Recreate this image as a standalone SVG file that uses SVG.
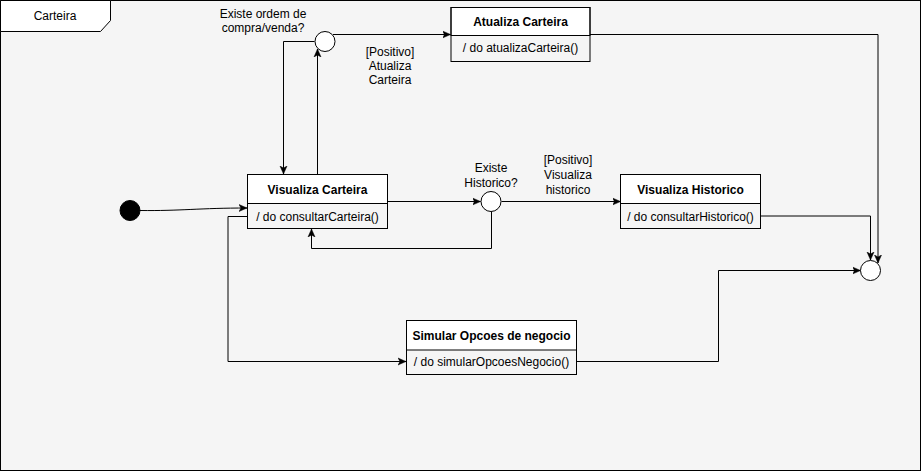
<svg xmlns="http://www.w3.org/2000/svg" width="921" height="471" viewBox="0 0 921 471">
<style>
text{font-family:"Liberation Sans",Arial,sans-serif;font-size:12px;fill:#000;}
.t{font-weight:bold;text-anchor:middle;}
.b{text-anchor:middle;}
.lbl{text-anchor:middle;}
.box{fill:none;stroke:#000;stroke-width:1;}
.hdr{fill:#fff;stroke:#000;stroke-width:1;}
.c{fill:#fff;stroke:#000;stroke-width:1;}
.e{fill:none;stroke:#000;stroke-width:1;marker-end:url(#arr);}
</style>
<defs>
<marker id="arr" markerUnits="userSpaceOnUse" markerWidth="9" markerHeight="9" refX="8" refY="4.5" orient="auto">
<path d="M0,1 L8,4.5 L0,8 L2,4.5 Z" fill="#000" stroke="#000" stroke-width="0.5"/>
</marker>
</defs>
<g id="frame">
<rect x="0.5" y="0.5" width="920" height="470" fill="#f5f5f5" stroke="#000"/>
<polygon points="0.5,0.5 110.5,0.5 110.5,20.5 100.5,31.5 0.5,31.5" fill="#fff" stroke="#000"/>
<text x="55" y="19.5" class="b">Carteira</text>
</g>
<g id="connectors">
<path class="e" d="M140,210.5 C180,211 200,208 247,208"/>
<path class="e" d="M317.5,175 L317.5,49"/>
<path class="e" d="M314.5,41.5 L283.5,41.5 L283.5,174"/>
<path class="e" d="M333,34.5 L450.5,34.5"/>
<path class="e" d="M590,34.5 L878,34.5 L878,263"/>
<path class="e" d="M761,216 L870.5,216 L870.5,260"/>
<path class="e" d="M387,201.5 L480.5,201.5"/>
<path class="e" d="M491.5,211.5 L491.5,248.5 L311.5,248.5 L311.5,229"/>
<path class="e" d="M501.5,201.5 L620.5,201.5"/>
<path class="e" d="M247,216.5 L228,216.5 L228,361.5 L406,361.5"/>
<path class="e" d="M577,361.5 L718.5,361.5 L718.5,270.5 L860.5,270.5"/>
</g>
<g id="labels">
<text x="263" y="18" class="lbl">Existe ordem de</text>
<text x="263" y="32" class="lbl">compra/venda?</text>
<text x="390" y="56" class="lbl">[Positivo]</text>
<text x="390" y="70" class="lbl">Atualiza</text>
<text x="390" y="84" class="lbl">Carteira</text>
<text x="491" y="172" class="lbl">Existe</text>
<text x="491" y="187" class="lbl">Historico?</text>
<text x="568" y="164" class="lbl">[Positivo]</text>
<text x="568" y="179" class="lbl">Visualiza</text>
<text x="568" y="194" class="lbl">historico</text>
</g>
<g id="initial">
<circle cx="130" cy="210.5" r="10" fill="#000" stroke="#000"/>
</g>
<g id="decision1">
<circle class="c" cx="325" cy="41.5" r="10"/>
</g>
<g id="decision2">
<circle class="c" cx="491" cy="201.5" r="10"/>
</g>
<g id="final">
<circle class="c" cx="870.5" cy="270.5" r="10"/>
</g>
<g id="visualizaCarteira">
<rect class="hdr" x="247.5" y="174.5" width="140" height="29"/>
<rect class="box" x="247.5" y="174.5" width="140" height="54"/>
<text x="317.5" y="193.5" class="t">Visualiza Carteira</text>
<text x="317.5" y="220.5" class="b">/ do consultarCarteira()</text>
</g>
<g id="atualizaCarteira">
<rect class="hdr" x="451" y="7.5" width="139" height="28"/>
<rect class="box" x="451" y="7.5" width="139" height="54"/>
<text x="520.5" y="25.5" class="t">Atualiza Carteira</text>
<text x="520.5" y="52" class="b">/ do atualizaCarteira()</text>
</g>
<g id="visualizaHistorico">
<rect class="hdr" x="620.5" y="174.5" width="140" height="29"/>
<rect class="box" x="620.5" y="174.5" width="140" height="54"/>
<text x="690.5" y="193.5" class="t">Visualiza Historico</text>
<text x="690.5" y="220.5" class="b">/ do consultarHistorico()</text>
</g>
<g id="simularOpcoes">
<rect class="hdr" x="406.5" y="320.5" width="170" height="29.5"/>
<rect class="box" x="406.5" y="320.5" width="170" height="54"/>
<text x="491.5" y="339.5" class="t">Simular Opcoes de negocio</text>
<text x="491.5" y="366" class="b">/ do simularOpcoesNegocio()</text>
</g>
</svg>
